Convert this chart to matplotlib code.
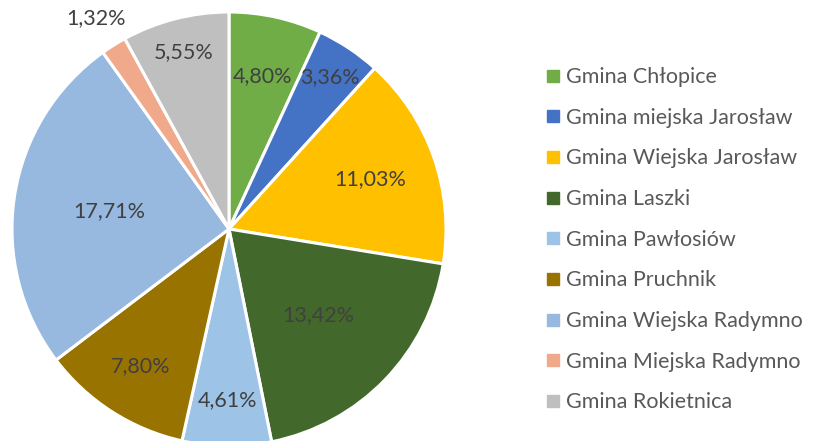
import numpy as np
import matplotlib.pyplot as plt
from matplotlib.lines import Line2D

plt.rcParams['font.family'] = ['Lato', 'DejaVu Sans']

gminy = ['Gmina Chłopice', 'Gmina miejska Jarosław', 'Gmina Wiejska Jarosław',
         'Gmina Laszki', 'Gmina Pawłosiów', 'Gmina Pruchnik',
         'Gmina Wiejska Radymno', 'Gmina Miejska Radymno', 'Gmina Rokietnica']
udzial = [4.80, 3.36, 11.03, 13.42, 4.61, 7.80, 17.71, 1.32, 5.55]
kolory = ['#70AD47', '#4472C4', '#FFC000', '#43682B', '#9DC3E6',
          '#997300', '#97B8DF', '#F1A98B', '#BFBFBF']
# odleglosc etykiety od srodka (w promieniach)
lab_r = [0.72, 0.84, 0.69, 0.57, 0.79, 0.75, 0.56, 1.15, 0.84]

fig = plt.figure(figsize=(8.13, 4.41), dpi=100)
R = 217 / 441
ax = fig.add_axes([229/813 - 217/813, (441-229)/441 - R, 2*217/813, 2*R])

wedges, _ = ax.pie(udzial, colors=kolory, startangle=90, counterclock=False,
                   wedgeprops=dict(edgecolor='white', linewidth=2.2))
ax.set_aspect('equal')
ax.set_xlim(-1, 1)
ax.set_ylim(-1, 1)

for w, v, r in zip(wedges, udzial, lab_r):
    th = np.deg2rad((w.theta1 + w.theta2) / 2)
    s = ('%.2f%%' % v).replace('.', ',')
    ax.text(r*np.cos(th), r*np.sin(th), s, ha='center', va='center',
            fontsize=15.5, color='#404040')

handles = [Line2D([], [], marker='s', linestyle='none', markersize=8,
                  markerfacecolor=c, markeredgecolor=c) for c in kolory]
fig.legend(handles, gminy, loc='upper left', bbox_to_anchor=(534/813, 1 - 58.5/441),
           frameon=False, fontsize=15.5, labelcolor='#595959', borderaxespad=0,
           handletextpad=0.1, labelspacing=0.96, handlelength=1.0)

fig.savefig('out.png', dpi=100)
